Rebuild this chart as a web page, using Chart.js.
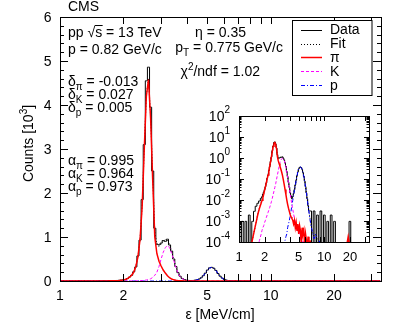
<!DOCTYPE html>
<html>
<head>
<meta charset="utf-8">
<script src="https://cdn.jsdelivr.net/npm/chart.js@4.4.1/dist/chart.umd.min.js"></script>
<style>
  html, body { margin: 0; padding: 0; background: #fff; }
  #wrap { position: relative; width: 407px; height: 326px; }
  #main { position: absolute; left: 0; top: 0; }
  #inset { position: absolute; left: 196px; top: 100px; }
</style>
</head>
<body>
<div id="wrap">
  <canvas id="main" width="407" height="326"></canvas>
  <canvas id="inset" width="190" height="172"></canvas>
</div>
<script>
const FONT = "'Liberation Sans', Arial, Helvetica, sans-serif";

// bin centres, energy loss in MeV/cm
const epsilon = [
  1.000, 1.047, 1.096, 1.148, 1.202, 1.259, 1.318, 1.380, 1.445, 1.514, 1.585, 1.660, 1.738,
  1.820, 1.862, 1.905, 1.950, 1.995, 2.042, 2.089, 2.138, 2.188, 2.239, 2.291, 2.344, 2.399, 2.455,
  2.512, 2.570, 2.630, 2.692, 2.754, 2.818, 2.884, 2.951, 3.020, 3.090, 3.162, 3.236, 3.311, 3.388,
  3.467, 3.548, 3.631, 3.715, 3.802, 3.890, 3.981, 4.074, 4.169, 4.266, 4.365, 4.467, 4.571, 4.677,
  4.786, 4.898, 5.012, 5.129, 5.248, 5.370, 5.495, 5.623, 5.754, 5.888, 6.026, 6.166, 6.310, 6.457, 6.607,
  6.918, 7.244, 7.586, 7.943, 8.318, 8.710, 9.120, 9.550, 10.00, 10.47, 10.96, 11.48, 12.02, 12.59,
  13.18, 13.80, 14.45, 15.14, 15.85, 16.60, 17.38, 18.20, 19.05, 19.95, 20.89, 21.88, 22.91, 23.99,
  25.12, 26.30, 27.54, 28.84, 30.20, 31.62, 33.11
];

// counts [10^3] per bin
const dataCounts = [
  0.0008, 0, 0.0008, 0, 0.0008, 0, 0.0016, 0, 0.0008, 0.0024, 0.0042, 0.0058, 0.0075,
  0.010, 0.012, 0.016, 0.020, 0.026, 0.036, 0.054, 0.09, 0.13, 0.21, 0.32, 0.57, 0.93, 1.85,
  3.10, 4.55, 4.86, 3.95, 2.50, 1.20, 0.84, 0.82, 0.86, 0.92, 0.90, 0.95, 0.82, 0.68,
  0.50, 0.33, 0.19, 0.11, 0.058, 0.034, 0.018, 0.013, 0.0095, 0.012, 0.017, 0.026, 0.044, 0.072,
  0.12, 0.18, 0.25, 0.30, 0.31, 0.29, 0.24, 0.17, 0.11, 0.066, 0.036, 0.018, 0.0095, 0.0045, 0.0025,
  0.0025, 0, 0.0025, 0, 0.0016, 0, 0.0025, 0, 0.0016, 0, 0.0008, 0, 0.0016, 0,
  0.0008, 0, 0, 0, 0, 0, 0, 0, 0, 0.0008, 0, 0, 0, 0,
  0, 0, 0, 0, 0, 0, 0
];

const fitCounts = [
  null, null, null, null, null, null, null, 0.00005, 0.00012, 0.0003, 0.0007, 0.0018, 0.0036,
  0.0062, 0.0083, 0.0114, 0.0165, 0.0247, 0.0369, 0.0562, 0.0866, 0.132, 0.203, 0.334, 0.555, 0.957, 1.71,
  3.015, 4.22, 4.61, 3.75, 2.38, 1.13, 0.82, 0.78, 0.84, 0.90, 0.94, 0.92, 0.835, 0.675,
  0.496, 0.325, 0.189, 0.106, 0.059, 0.033, 0.019, 0.0128, 0.0106, 0.0119, 0.0164, 0.027, 0.0431, 0.0712,
  0.1206, 0.181, 0.2504, 0.2958, 0.3104, 0.2903, 0.2404, 0.1703, 0.1103, 0.0651, 0.0352, 0.0181, 0.0091, 0.0047, 0.0023,
  0.0007, 0.00025, 0.00015, 0.0002, 0.0001, null, null, null, null, null, null, null, null, null,
  null, null, null, null, null, null, null, null, null, null, null, null, null, null,
  null, null, null, null, null, null, null
];

const pionCounts = [
  null, null, null, null, null, null, null, 0.00005, 0.00012, 0.0003, 0.0007, 0.0017, 0.0034,
  0.006, 0.008, 0.011, 0.016, 0.024, 0.036, 0.055, 0.085, 0.13, 0.20, 0.33, 0.55, 0.95, 1.70,
  3.00, 4.20, 4.58, 3.70, 2.30, 1.00, 0.62, 0.45, 0.34, 0.25, 0.18, 0.12, 0.075, 0.045,
  0.026, 0.015, 0.0085, 0.0052, 0.0034, 0.0024, 0.0017, 0.0013, 0.0011, 0.0009, 0.0006, 0.0009, 0.0004, 0.0007,
  0.0003, 0.0006, 0.0002, 0.0005, 0.0003, 0.00006, 0.0004, 0.0002, 0.0003, 0.00005, 0.0002, 0.0001, 0.00005, 0.00015, 0.00005,
  0.0001, null, null, null, null, null, null, null, null, null, null, null, null, null,
  null, null, null, null, null, null, null, 0.00005, 0.00015, 0.00005, null, null, null, null,
  null, null, null, null, null, null, null
];

const kaonCounts = [
  null, null, null, null, null, null, null, null, null, null, null, 0.00005, 0.0001,
  0.0002, 0.0003, 0.0004, 0.0005, 0.0007, 0.0009, 0.0012, 0.0016, 0.0021, 0.0028, 0.0037, 0.005, 0.007, 0.010,
  0.015, 0.022, 0.033, 0.05, 0.08, 0.13, 0.20, 0.33, 0.50, 0.65, 0.76, 0.80, 0.76, 0.63,
  0.47, 0.31, 0.18, 0.10, 0.055, 0.030, 0.016, 0.009, 0.005, 0.003, 0.0018, 0.0011, 0.0007, 0.0005,
  0.0003, 0.0004, 0.0002, 0.0003, 0.0001, 0.00015, 0.00005, 0.0001, 0.00005, null, null, null, null, null, null,
  null, null, null, null, null, null, null, null, null, null, null, null, null, null,
  null, null, null, null, null, null, null, null, null, null, null, null, null, null,
  null, null, null, null, null, null, null
];

const protonCounts = [
  null, null, null, null, null, null, null, null, null, null, null, null, null,
  null, null, null, null, null, null, null, null, null, null, null, null, null, null,
  null, null, null, null, null, null, null, null, null, null, null, null, null, 0.00005,
  0.0001, 0.00015, 0.0002, 0.0004, 0.0006, 0.0009, 0.0014, 0.0025, 0.0045, 0.008, 0.014, 0.025, 0.042, 0.07,
  0.12, 0.18, 0.25, 0.295, 0.31, 0.29, 0.24, 0.17, 0.11, 0.065, 0.035, 0.018, 0.009, 0.0045, 0.0022,
  0.0006, 0.00025, 0.00012, 0.0002, 0.00005, 0.0001, 0.00005, null, null, null, null, null, null, null,
  null, null, null, null, null, null, null, null, null, null, null, null, null, null,
  null, null, null, null, null, null, null
];

const yTickValues = [0, 1, 2, 3, 4, 5, 6];
const xTickMarks = [1, 2, 3, 4, 5, 6, 7, 8, 9, 10, 20, 30];
const xTickLabels = [1, 2, 5, 10, 20];
const insetExponents = [-4, -3, -2, -1, 0, 1, 2];
const insetNorm = 1.2;    // inset is drawn per unit, slightly higher than main plot
const insetFloor = 1e-6;  // empty bins drop below the inset axis

const xMin = 1, xMax = 33.4;

const series = [
  { label: 'Data', values: dataCounts, color: '#000000', width: 1, dash: [], stepped: 'middle', order: 5 },
  { label: 'Fit', values: fitCounts, color: '#000000', width: 1, dash: [1, 2], order: 4 },
  { label: 'π', values: pionCounts, color: '#ff0000', width: 1.5, dash: [], order: 1 },
  { label: 'K', values: kaonCounts, color: '#ff00ff', width: 1, dash: [3, 2], order: 2 },
  { label: 'p', values: protonCounts, color: '#0000ff', width: 1, dash: [4, 2, 1, 2], order: 3 }
];

// main plot: empty -> 0 ; inset (log): empty bins -> below axis, no template -> gap
function makeDatasets(logY, scale) {
  return series.map(s => ({
    label: s.label,
    data: epsilon.map((x, i) => {
      const v = s.values[i];
      let y;
      if (v === null) y = logY ? null : 0;
      else if (v === 0) y = logY ? insetFloor : 0;
      else y = v * scale;
      return { x: x, y: y };
    }),
    borderColor: s.color,
    borderWidth: s.width,
    borderDash: s.dash,
    stepped: s.stepped || false,
    tension: 0,
    pointRadius: 0,
    fill: false,
    spanGaps: false,
    order: s.order
  }));
}

// text with sub / superscripts
function partFont(p, size) {
  const small = p[1] === 'sub' || p[1] === 'sup';
  return (small ? Math.round(size * 0.7) : size) + 'px ' + FONT;
}
function richWidth(ctx, parts, size) {
  let w = 0;
  parts.forEach(p => { ctx.font = partFont(p, size); w += ctx.measureText(p[0]).width; });
  return w;
}
function drawRich(ctx, x, y, parts, size, align) {
  let cx = x;
  if (align === 'right') cx = x - richWidth(ctx, parts, size);
  if (align === 'center') cx = x - richWidth(ctx, parts, size) / 2;
  ctx.textAlign = 'left';
  ctx.textBaseline = 'alphabetic';
  parts.forEach(p => {
    const mode = p[1] || '';
    ctx.font = partFont(p, size);
    let dy = 0;
    if (mode === 'sub') dy = size * 0.3;
    if (mode === 'sup') dy = -size * 0.45;
    ctx.fillText(p[0], cx, y + dy);
    const w = ctx.measureText(p[0]).width;
    if (mode === 'over') {
      ctx.beginPath();
      ctx.lineWidth = 1;
      ctx.moveTo(cx - 0.5, y - size * 0.82 + 0.5);
      ctx.lineTo(cx + w + 0.5, y - size * 0.82 + 0.5);
      ctx.stroke();
    }
    cx += w;
  });
}

const mainTexts = [
  { x: 68, y: 11, parts: [['CMS']] },
  { x: 68, y: 36.5, parts: [['pp '], ['√'], ['s', 'over'], [' = 13 TeV']] },
  { x: 68, y: 54, parts: [['p = 0.82 GeV/c']] },
  { x: 246, y: 36.5, parts: [['η = 0.35']], align: 'right' },
  { x: 283, y: 52, parts: [['p'], ['T', 'sub'], [' = 0.775 GeV/c']], align: 'right' },
  { x: 260, y: 76, parts: [['χ'], ['2', 'sup'], ['/ndf = 1.02']], align: 'right' },
  { x: 68, y: 86, parts: [['δ'], ['π', 'sub'], [' = -0.013']] },
  { x: 68, y: 99, parts: [['δ'], ['K', 'sub'], [' = 0.027']] },
  { x: 68, y: 111.5, parts: [['δ'], ['p', 'sub'], [' = 0.005']] },
  { x: 68, y: 165, parts: [['α'], ['π', 'sub'], [' = 0.995']] },
  { x: 68, y: 178, parts: [['α'], ['K', 'sub'], [' = 0.964']] },
  { x: 68, y: 190.7, parts: [['α'], ['p', 'sub'], [' = 0.973']] }
];

const legendBaselines = [34.3, 48.3, 62, 76, 89.5];

const mainDecor = {
  id: 'mainDecor',
  afterDatasetsDraw(chart) {
    const ctx = chart.ctx, a = chart.chartArea;
    const xs = chart.scales.x, ys = chart.scales.y;
    ctx.save();
    ctx.strokeStyle = '#000';
    ctx.lineWidth = 1;
    ctx.setLineDash([]);
    ctx.strokeRect(a.left + 0.5, a.top + 0.5, a.right - a.left, a.bottom - a.top);

    ctx.beginPath();
    for (let k = 0; k <= 30; k++) {
      const y = Math.round(ys.getPixelForValue(k * 0.2)) + 0.5;
      const len = k % 5 === 0 ? 8 : 4;
      ctx.moveTo(a.left, y); ctx.lineTo(a.left + len, y);
      ctx.moveTo(a.right, y); ctx.lineTo(a.right - len, y);
    }
    xTickMarks.forEach(v => {
      const x = Math.round(xs.getPixelForValue(v)) + 0.5;
      ctx.moveTo(x, a.bottom); ctx.lineTo(x, a.bottom - 7);
      ctx.moveTo(x, a.top); ctx.lineTo(x, a.top + 7);
    });
    ctx.stroke();

    // tick labels
    ctx.fillStyle = '#000';
    ctx.font = '14px ' + FONT;
    ctx.textBaseline = 'alphabetic';
    ctx.textAlign = 'right';
    yTickValues.forEach(v => ctx.fillText(String(v), 51.5, ys.getPixelForValue(v) + 5));
    ctx.textAlign = 'center';
    xTickLabels.forEach(v => ctx.fillText(String(v), xs.getPixelForValue(v), 299.5));

    // axis titles
    drawRich(ctx, 220, 319, [['ε [MeV/cm]']], 14, 'center');
    ctx.save();
    ctx.translate(33, 143.5);
    ctx.rotate(-Math.PI / 2);
    drawRich(ctx, 0, 0, [['Counts [10'], ['3', 'sup'], [']']], 14, 'center');
    ctx.restore();

    // annotations
    mainTexts.forEach(t => drawRich(ctx, t.x, t.y, t.parts, 14, t.align));

    // legend
    ctx.fillStyle = '#fff';
    ctx.fillRect(293, 20, 79, 75);
    ctx.strokeStyle = '#000';
    ctx.lineWidth = 1;
    ctx.strokeRect(292.5, 20.5, 79.5, 75);
    series.forEach((s, i) => {
      const by = legendBaselines[i];
      const ly = Math.round(by - 4.7) + 0.5;
      ctx.beginPath();
      ctx.strokeStyle = s.color;
      ctx.lineWidth = s.width;
      ctx.setLineDash(s.dash);
      ctx.moveTo(301, ly); ctx.lineTo(322, ly);
      ctx.stroke();
      ctx.setLineDash([]);
      ctx.fillStyle = '#000';
      ctx.font = '14px ' + FONT;
      ctx.textAlign = 'left';
      ctx.fillText(s.label, 330, by);
    });
    ctx.restore();
  }
};

const insetDecor = {
  id: 'insetDecor',
  beforeDatasetsDraw(chart) {
    const ctx = chart.ctx, a = chart.chartArea;
    ctx.save();
    ctx.fillStyle = '#fff';
    ctx.fillRect(a.left, a.top, a.right - a.left, a.bottom - a.top);
    ctx.restore();
  },
  afterDatasetsDraw(chart) {
    const ctx = chart.ctx, a = chart.chartArea;
    const xs = chart.scales.x, ys = chart.scales.y;
    ctx.save();
    ctx.strokeStyle = '#000';
    ctx.lineWidth = 1;
    ctx.setLineDash([]);
    ctx.strokeRect(a.left + 0.5, a.top + 0.5, a.right - a.left, a.bottom - a.top);
    ctx.beginPath();
    insetExponents.forEach(e => {
      for (let m = 1; m <= 9; m++) {
        if (e === 2 && m > 1) break;
        const y = Math.round(ys.getPixelForValue(m * Math.pow(10, e))) + 0.5;
        const len = m === 1 ? 5 : 2.5;
        ctx.moveTo(a.left, y); ctx.lineTo(a.left + len, y);
        ctx.moveTo(a.right, y); ctx.lineTo(a.right - len, y);
      }
    });
    xTickMarks.forEach(v => {
      const x = Math.round(xs.getPixelForValue(v)) + 0.5;
      ctx.moveTo(x, a.bottom); ctx.lineTo(x, a.bottom - 5);
      ctx.moveTo(x, a.top); ctx.lineTo(x, a.top + 5);
    });
    ctx.stroke();

    ctx.fillStyle = '#000';
    insetExponents.forEach(e => {
      const y = ys.getPixelForValue(Math.pow(10, e));
      const sup = String(e);
      ctx.font = '10px ' + FONT;
      const ws = ctx.measureText(sup).width;
      ctx.font = '14px ' + FONT;
      const wb = ctx.measureText('10').width;
      const right = 34;
      ctx.textAlign = 'left';
      ctx.fillText('10', right - ws - wb, y + 5);
      ctx.font = '10px ' + FONT;
      ctx.fillText(sup, right - ws, y - 2.7);
    });
    ctx.font = '13px ' + FONT;
    ctx.textAlign = 'center';
    xTickLabels.forEach(v => ctx.fillText(String(v), xs.getPixelForValue(v), 161));
    ctx.restore();
  }
};

Chart.defaults.font.family = FONT;
Chart.defaults.color = '#000';

new Chart(document.getElementById('main'), {
  type: 'line',
  data: { datasets: makeDatasets(false, 1) },
  options: {
    responsive: false,
    animation: false,
    events: [],
    layout: { padding: { left: 60, top: 17, right: 26, bottom: 45 } },
    scales: {
      x: { type: 'logarithmic', min: xMin, max: xMax, display: false },
      y: { type: 'linear', min: 0, max: 6, display: false }
    },
    plugins: { legend: { display: false }, tooltip: { enabled: false } }
  },
  plugins: [mainDecor]
});

new Chart(document.getElementById('inset'), {
  type: 'line',
  data: { datasets: makeDatasets(true, insetNorm) },
  options: {
    responsive: false,
    animation: false,
    events: [],
    layout: { padding: { left: 43, top: 16, right: 17, bottom: 30 } },
    scales: {
      x: { type: 'logarithmic', min: xMin, max: xMax, display: false },
      y: { type: 'logarithmic', min: 1e-4, max: 1e2, display: false }
    },
    plugins: { legend: { display: false }, tooltip: { enabled: false } }
  },
  plugins: [insetDecor]
});
</script>
</body>
</html>
